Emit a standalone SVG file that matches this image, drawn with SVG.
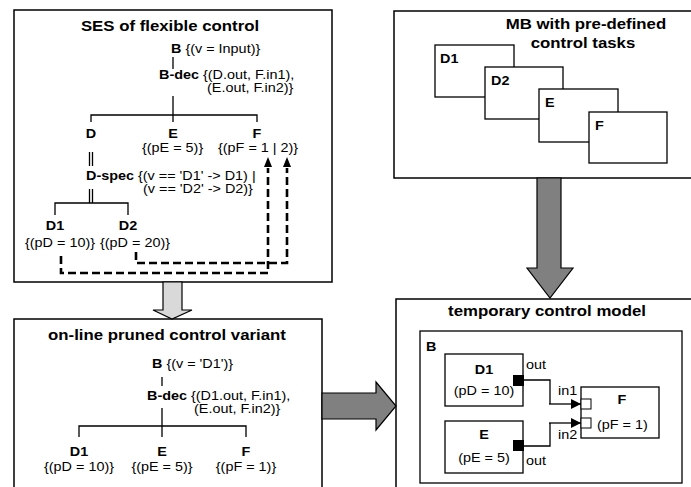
<svg xmlns="http://www.w3.org/2000/svg" width="691" height="487" viewBox="0 0 691 487">
<style>
text{font-family:"Liberation Sans",Arial,sans-serif;font-size:12px;fill:#000}
.t{font-size:14px;font-weight:bold}
.b{font-weight:bold}
.m{text-anchor:middle}
.panel{fill:#fff;stroke:#000;stroke-width:1.5}
.box{fill:#fff;stroke:#000;stroke-width:1.3}
.ln{fill:none;stroke:#000;stroke-width:1.3}
.dash{fill:none;stroke:#000;stroke-width:2.6;stroke-dasharray:8,4}
</style>
<defs>
<marker id="ah" viewBox="0 0 10 10" refX="10" refY="5" markerWidth="10" markerHeight="10" markerUnits="userSpaceOnUse" orient="auto"><path d="M0,0 L10,5 L0,10 Z" fill="#000"/></marker>
</defs>

<!-- panels -->
<g id="panel-ses">
<rect class="panel" x="14" y="10" width="318" height="272"/>
<text class="t m" transform="translate(170,31) scale(1.2,1)">SES of flexible control</text>
</g>
<g id="panel-mb">
<rect class="panel" x="394" y="11" width="310" height="167"/>
<text class="t m" transform="translate(586,29) scale(1.2,1)">MB with pre-defined</text>
<text class="t m" transform="translate(583,48) scale(1.2,1)">control tasks</text>
</g>
<g id="panel-online">
<rect class="panel" x="14" y="319" width="308" height="180"/>
<text class="t m" transform="translate(167,340) scale(1.2,1)">on-line pruned control variant</text>
</g>
<g id="panel-temp">
<rect class="panel" x="396" y="299" width="310" height="200"/>
<text class="t m" transform="translate(547,316) scale(1.2,1)">temporary control model</text>
</g>

<!-- big arrows -->
<g id="big-arrows" stroke="#000" stroke-width="1.2" stroke-linejoin="miter">
<path d="M163,282 V310 H153 L172,319 L192,310 H182 V282 Z" fill="#d9d9d9"/>
<path d="M537,178 V268 H527 L550,298 L573,268 H561 V178 Z" fill="#808080"/>
<path d="M322,393 H376 V382 L396,406 L376,430 V419 H322 Z" fill="#808080"/>
</g>

<!-- SES tree -->
<g id="ses-B"><text transform="translate(171,53) scale(1.2,1)"><tspan class="b">B</tspan> {(v = Input)}</text></g>
<g id="ses-Bdec">
<text transform="translate(159,79) scale(1.2,1)"><tspan class="b">B-dec</tspan> {(D.out, F.in1),</text>
<text transform="translate(207,92) scale(1.2,1)">(E.out, F.in2)}</text>
</g>
<g id="ses-D"><text class="b m" transform="translate(91,138) scale(1.2,1)">D</text></g>
<g id="ses-E">
<text class="b m" transform="translate(173,138) scale(1.2,1)">E</text>
<text transform="translate(142,152) scale(1.2,1)">{(pE = 5)}</text>
</g>
<g id="ses-F">
<text class="b m" transform="translate(257,138) scale(1.2,1)">F</text>
<text transform="translate(218,152) scale(1.2,1)">{(pF = 1 | 2)}</text>
</g>
<g id="ses-Dspec">
<text transform="translate(86,180) scale(1.2,1)"><tspan class="b">D-spec</tspan> {(v == 'D1' -&gt; D1) |</text>
<text transform="translate(143,193) scale(1.2,1)">(v == 'D2' -&gt; D2)}</text>
</g>
<g id="ses-D1">
<text class="b m" transform="translate(55,230) scale(1.2,1)">D1</text>
<text transform="translate(25,247) scale(1.2,1)">{(pD = 10)}</text>
</g>
<g id="ses-D2">
<text class="b m" transform="translate(128,230) scale(1.2,1)">D2</text>
<text transform="translate(100,247) scale(1.2,1)">{(pD = 20)}</text>
</g>

<!-- online tree -->
<g id="on-B"><text transform="translate(152,368) scale(1.2,1)"><tspan class="b">B</tspan> {(v = 'D1')}</text></g>
<g id="on-Bdec">
<text transform="translate(147,400) scale(1.2,1)"><tspan class="b">B-dec</tspan> {(D1.out, F.in1),</text>
<text transform="translate(194,413) scale(1.2,1)">(E.out, F.in2)}</text>
</g>
<g id="on-D1">
<text class="b m" transform="translate(79,456) scale(1.2,1)">D1</text>
<text class="m" transform="translate(79,471) scale(1.2,1)">{(pD = 10)}</text>
</g>
<g id="on-E">
<text class="b m" transform="translate(162,456) scale(1.2,1)">E</text>
<text class="m" transform="translate(162,471) scale(1.2,1)">{(pE = 5)}</text>
</g>
<g id="on-F">
<text class="b m" transform="translate(246,456) scale(1.2,1)">F</text>
<text class="m" transform="translate(246,471) scale(1.2,1)">{(pF = 1)}</text>
</g>

<!-- MB stacked tasks -->
<g id="mb-D1"><rect class="box" x="435" y="45" width="79" height="52"/><text class="b" transform="translate(440,63) scale(1.2,1)">D1</text></g>
<g id="mb-D2"><rect class="box" x="485" y="67" width="78" height="52"/><text class="b" transform="translate(491,85) scale(1.2,1)">D2</text></g>
<g id="mb-E"><rect class="box" x="539" y="89" width="79" height="53"/><text class="b" transform="translate(545,107) scale(1.2,1)">E</text></g>
<g id="mb-F"><rect class="box" x="589" y="112" width="78" height="51"/><text class="b" transform="translate(595,130) scale(1.2,1)">F</text></g>

<!-- temporary model -->
<g id="tm-B"><rect class="box" x="420" y="331" width="262" height="152"/><text class="b" transform="translate(426,351) scale(1.2,1)">B</text></g>
<g id="tm-D1">
<rect class="box" x="445" y="354" width="78" height="52"/>
<text class="b m" transform="translate(484,374) scale(1.2,1)">D1</text>
<text class="m" transform="translate(484,395) scale(1.2,1)">(pD = 10)</text>
<rect x="513" y="375" width="11" height="11" fill="#000"/>
<text transform="translate(526,369) scale(1.2,1)">out</text>
</g>
<g id="tm-E">
<rect class="box" x="445" y="421" width="78" height="52"/>
<text class="b m" transform="translate(484,439) scale(1.2,1)">E</text>
<text class="m" transform="translate(484,462) scale(1.2,1)">(pE = 5)</text>
<rect x="513" y="440" width="11" height="11" fill="#000"/>
<text transform="translate(526,465) scale(1.2,1)">out</text>
</g>
<g id="tm-F">
<rect class="box" x="581" y="387" width="78" height="51"/>
<text class="b m" transform="translate(622,404) scale(1.2,1)">F</text>
<text transform="translate(597,429) scale(1.2,1)">(pF = 1)</text>
<rect x="581" y="399" width="10" height="10" fill="#fff" stroke="#000" stroke-width="1"/>
<rect x="581" y="418" width="10" height="10" fill="#fff" stroke="#000" stroke-width="1"/>
<text transform="translate(558,395) scale(1.2,1)">in1</text>
<text transform="translate(558,439) scale(1.2,1)">in2</text>
</g>

<!-- connectors -->
<g id="connectors">
<path class="ln" d="M173,57 V69"/>
<path class="ln" d="M173,96 V115 M91,122 V115 H257 V122 M173,115 V122"/>
<path class="ln" d="M89.5,152 V166 M92.5,152 V166"/>
<path class="ln" d="M89.5,189 V203 M92.5,189 V203"/>
<path class="ln" d="M55,215 V203 H128 V215"/>
<path class="dash" d="M61,256 V273 H268 V168"/>
<path class="dash" d="M136,252 V263 H287 V168"/>
<path d="M264,167 L268,157 L272,167 Z" fill="#000"/>
<path d="M283,167 L287,157 L291,167 Z" fill="#000"/>
<path class="ln" d="M162,377 V386"/>
<path class="ln" d="M162,408 V426 M79,437 V426 H246 V437 M162,426 V437"/>
<path class="ln" d="M524,380 H550 V404"/>
<path class="ln" stroke-width="2" d="M549,404 H581" marker-end="url(#ah)"/>
<path class="ln" d="M524,446 H550 V423"/>
<path class="ln" stroke-width="2" d="M549,423 H581" marker-end="url(#ah)"/>
</g>
</svg>
